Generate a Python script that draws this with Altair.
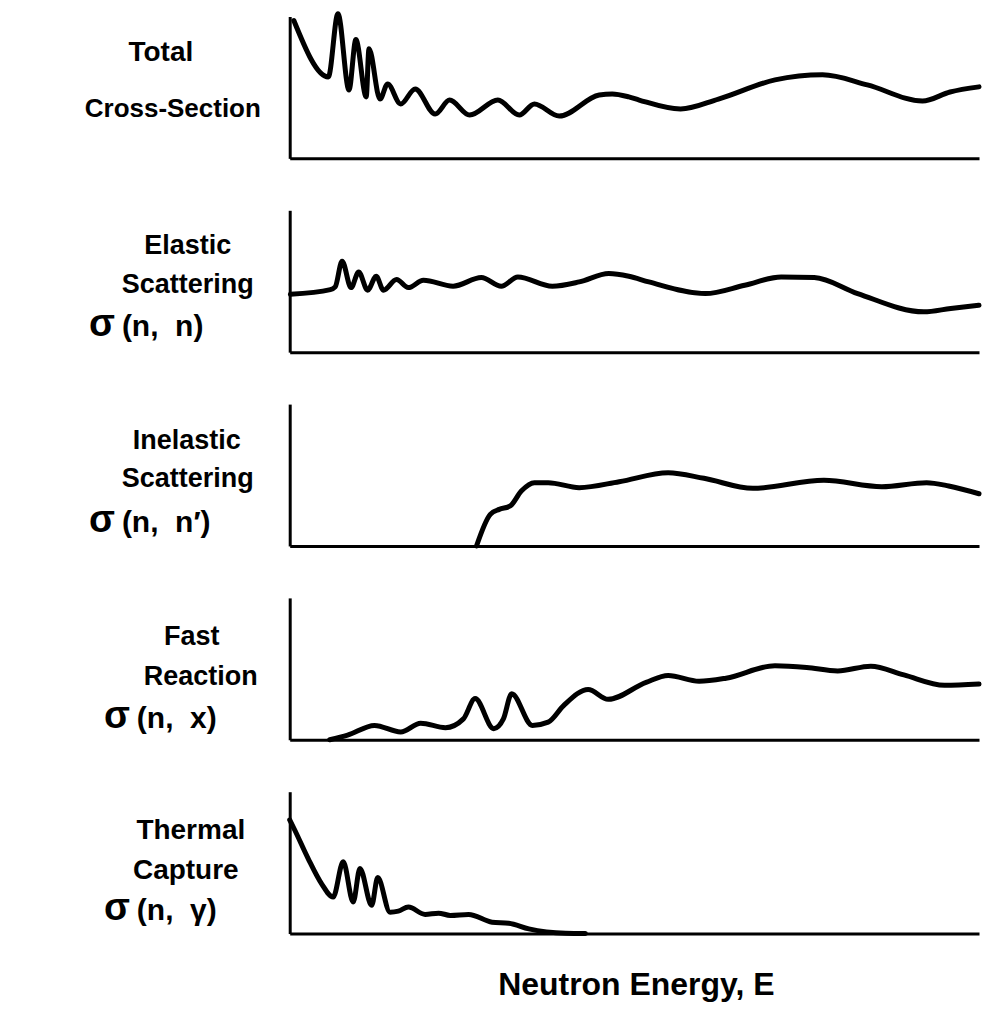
import altair as alt
import pandas as pd

# Neutron energy (relative units, 0-100) and cross-section (relative units, 0-100)
total_e = [0.6, 5.6, 7.0, 8.6, 9.6, 11.1, 11.5, 13.1, 14.2, 16.1, 18.2, 21.1, 23.2, 26.1,
           30.2, 33.3, 35.5, 39.1, 44.9, 46.8, 49.2, 50.7, 56.7, 62.2, 70.4, 77.3, 83.8,
           91.8, 95.8, 100]
total_s = [97.2, 57.4, 102, 48.2, 83.7, 43.3, 77.3, 41.8, 52.5, 38.3, 48.9, 31.2, 41.1, 30.5,
           41.1, 30.5, 38.3, 29.8, 44.7, 45.4, 43.3, 41.1, 34.8, 41.8, 55.3, 58.9, 51.8,
           40.4, 46.8, 50.4]

elastic_e = [0.1, 5.9, 6.6, 7.6, 8.9, 10.0, 11.3, 12.55, 13.6, 15.5, 17.2, 19.4, 23.7, 27.8,
             30.7, 33.1, 38.1, 42.0, 46.3, 49.2, 52.1, 60.3, 66.0, 71.3, 76.1, 82.4, 92.0,
             95.9, 100]
elastic_s = [40.8, 44.1, 46.0, 64.1, 45.5, 56.5, 43.7, 53.5, 43.7, 51.2, 45.5, 50.7, 46.5, 52.6,
             46.5, 53.0, 46.5, 49.5, 55.4, 53.5, 49.5, 41.3, 47.2, 53.0, 52.6, 41.3, 28.4,
             30.8, 33.1]

inelastic_e = [27.1, 29.1, 30.4, 32.0, 33.6, 35.5, 37.5, 42.0, 47.8, 54.9, 60.1, 67.2, 77.5,
               85.9, 92.4, 95.6, 100]
inelastic_s = [0, 22.3, 25.8, 28.2, 38.7, 44.6, 44.6, 41.1, 45.3, 51.6, 47.7, 40.6, 46.3,
               41.8, 44.6, 42.3, 36.8]

fast_e = [5.8, 8.4, 12.3, 16.1, 19.0, 22.6, 25.2, 26.9, 29.6, 31.0, 32.2, 35.2, 37.5, 39.7,
          43.3, 46.2, 51.7, 54.9, 59.4, 63.3, 70.4, 75.0, 79.5, 84.3, 89.1, 95.0, 100]
fast_s = [0, 3.2, 10.1, 5.5, 11.7, 8.5, 14.7, 29.0, 7.8, 14.7, 32.4, 10.1, 12.4, 23.9,
          35.4, 28.5, 40.5, 45.3, 41.2, 43.4, 52.2, 51.0, 48.5, 51.9, 45.7, 38.4, 39.3]

thermal_e = [0, 0.73, 2.66, 4.61, 6.30, 7.76, 9.21, 10.19, 11.89, 12.77, 14.56, 15.76, 17.22,
             19.65, 21.59, 23.29, 25.95, 29.36, 31.78, 34.69, 40.03, 42.9]
thermal_s = [80.1, 73.0, 53.0, 35.2, 25.7, 50.6, 22.2, 45.9, 19.9, 39.5, 15.1, 15.8, 18.7,
             13.5, 14.4, 12.8, 13.5, 8.0, 7.3, 3.3, 0.2, 0]

NB = "\u00a0"

# Panel label lines: (text, x, y, font size, align)
total_labels = [("Total", -129, 37, 28, "center"), ("Cross-Section", -117, 93, 26, "center")]
elastic_labels = [("Elastic", -102, 36, 27, "center"), ("Scattering", -102, 75, 27, "center"),
                  ("σ", -201, 115, 38, "left"), (f"(n,{NB}{NB}n)", -168, 117, 30, "left")]
inelastic_labels = [("Inelastic", -103, 37, 27, "center"), ("Scattering", -102, 75, 27, "center"),
                    ("σ", -201, 117, 38, "left"), (f"(n,{NB}{NB}n′)", -168, 119, 30, "left")]
fast_labels = [("Fast", -98, 39, 27, "center"), ("Reaction", -89, 79, 27, "center"),
               ("σ", -186, 119, 38, "left"), (f"(n,{NB}{NB}x)", -153, 121, 30, "left")]
thermal_labels = [("Thermal", -99, 39, 28, "center"), ("Capture", -104, 79, 28, "center"),
                  ("σ", -186, 117, 38, "left"), (f"(n,{NB}{NB}γ)", -153, 119, 30, "left")]

x_title = "Neutron Energy, E"

W, H = 690, 142
FONT = "Liberation Sans"


def text_layer(txt, x, y, size, align):
    return alt.Chart(pd.DataFrame({"t": [txt]})).mark_text(
        font=FONT, fontSize=size, fontWeight="bold", align=align,
        baseline="middle", color="black"
    ).encode(text="t:N", x=alt.value(x), y=alt.value(y))


def panel(e, s, labels, extra=None):
    df = pd.DataFrame({"e": e, "s": s})
    curve = alt.Chart(df).mark_line(
        color="black", strokeWidth=5, interpolate="monotone",
        strokeCap="round", strokeJoin="round", clip=False
    ).encode(
        x=alt.X("e:Q", scale=alt.Scale(domain=[0, 100], nice=False, zero=False),
                axis=alt.Axis(title=None, labels=False, ticks=False, grid=False,
                              domainColor="black", domainWidth=3)),
        y=alt.Y("s:Q", scale=alt.Scale(domain=[0, 100], nice=False, zero=False),
                axis=alt.Axis(title=None, labels=False, ticks=False, grid=False,
                              domainColor="black", domainWidth=3)),
    )
    layers = [curve] + [text_layer(*lab) for lab in labels]
    if extra:
        layers += extra
    return alt.layer(*layers).properties(width=W, height=H)


# white anchor fixing the top-left corner of the page
anchor = alt.Chart(pd.DataFrame({"a": [0]})).mark_rule(color="white", strokeWidth=0.5).encode(
    x=alt.value(-289), x2=alt.value(-288), y=alt.value(-15)
)

title_layer = text_layer(x_title, 347, 194, 32, "center")

chart = alt.vconcat(
    panel(total_e, total_s, total_labels, [anchor]),
    panel(elastic_e, elastic_s, elastic_labels),
    panel(inelastic_e, inelastic_s, inelastic_labels),
    panel(fast_e, fast_s, fast_labels),
    panel(thermal_e, thermal_s, thermal_labels, [title_layer]),
    spacing=52,
    bounds="flush",
).properties(
    padding=0,
    background="white",
).configure_view(stroke=None)

chart.save("out.html", embed_options={"renderer": "svg", "actions": False})
